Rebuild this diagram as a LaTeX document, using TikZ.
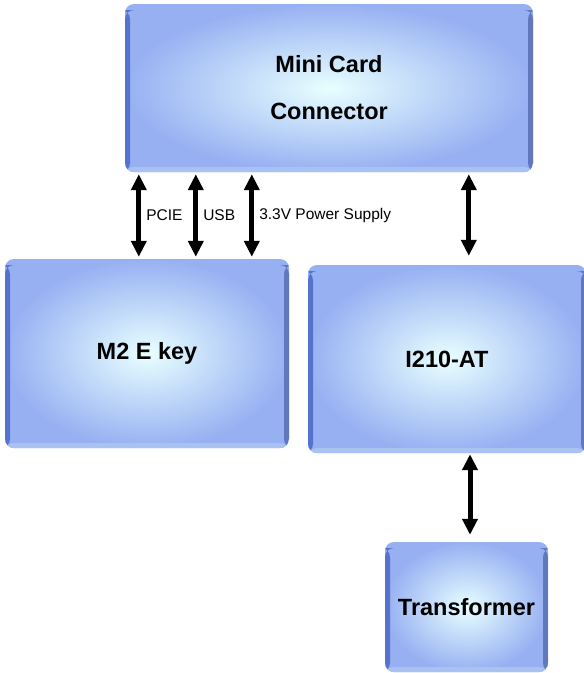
\documentclass[tikz,border=0pt]{standalone}
\usepackage{fontspec}
\setmainfont{Liberation Sans}
\usetikzlibrary{arrows.meta}
\begin{document}
\begin{tikzpicture}[x=1pt,y=1pt,
   blk/.style={rounded corners=9pt,inner color=boxi,outer color=boxo,
     font=\bfseries\fontsize{23.5}{47}\selectfont,align=center,inner sep=0pt,
     path picture={
       \fill [boxl] (path picture bounding box.south west) rectangle ([xshift=5pt,yshift=-6pt]path picture bounding box.north west);
       \fill [boxr] ([xshift=-5pt]path picture bounding box.south east) rectangle ([yshift=-6pt]path picture bounding box.north east);
       \fill [boxb] (path picture bounding box.south west) rectangle ([yshift=5pt]path picture bounding box.south east);
     }},
   link/.style={line width=5pt,{Triangle[width=15pt,length=16pt]}-{Triangle[width=15pt,length=16pt]},shorten <=2pt,shorten >=2pt},
   lbl/.style={font=\fontsize{15.5}{18}\selectfont,right,inner sep=5pt}]
   \definecolor{boxi}{HTML}{E8FFFF}
   \definecolor{boxo}{HTML}{97B0F2}
   \definecolor{boxl}{HTML}{5573CC}
   \definecolor{boxr}{HTML}{6278BC}
   \definecolor{boxb}{HTML}{A9C2F2}
   \useasboundingbox (0,0) rectangle (584,-673);
   % blocks
   \node [blk,minimum width=408pt,minimum height=168pt] (card) at (329,-88) {Mini Card\\Connector};
   \node [blk,minimum width=284pt,minimum height=189pt] (m2) at (147,-353.5) {M2 E key};
   \node [blk,minimum width=278pt,minimum height=188pt] (i210) at (447,-359) {I210-AT};
   \node [blk,minimum width=163pt,minimum height=130pt] (trans) at (466.5,-607) {Transformer};
   % buses
   \coordinate (pcie) at ([xshift=14pt]card.south west);
   \coordinate (usb) at ([xshift=71pt]card.south west);
   \coordinate (pwr) at ([xshift=127pt]card.south west);
   \coordinate (eth) at ([xshift=344pt]card.south west);
   \coordinate (mdi) at ([xshift=3.5pt]trans.north);
   \draw [link] (pcie) -- (pcie |- m2.north) node [lbl,midway] {PCIE};
   \draw [link] (usb) -- (usb |- m2.north) node [lbl,midway] {USB};
   \draw [link] (pwr) -- (pwr |- m2.north) node [lbl,midway] {3.3V Power Supply};
   \draw [link,shorten >=9pt] (eth) -- (eth |- i210.north);
   \draw [link,shorten <=1pt,shorten >=7pt] (mdi |- i210.south) -- (mdi);
\end{tikzpicture}
\end{document}
